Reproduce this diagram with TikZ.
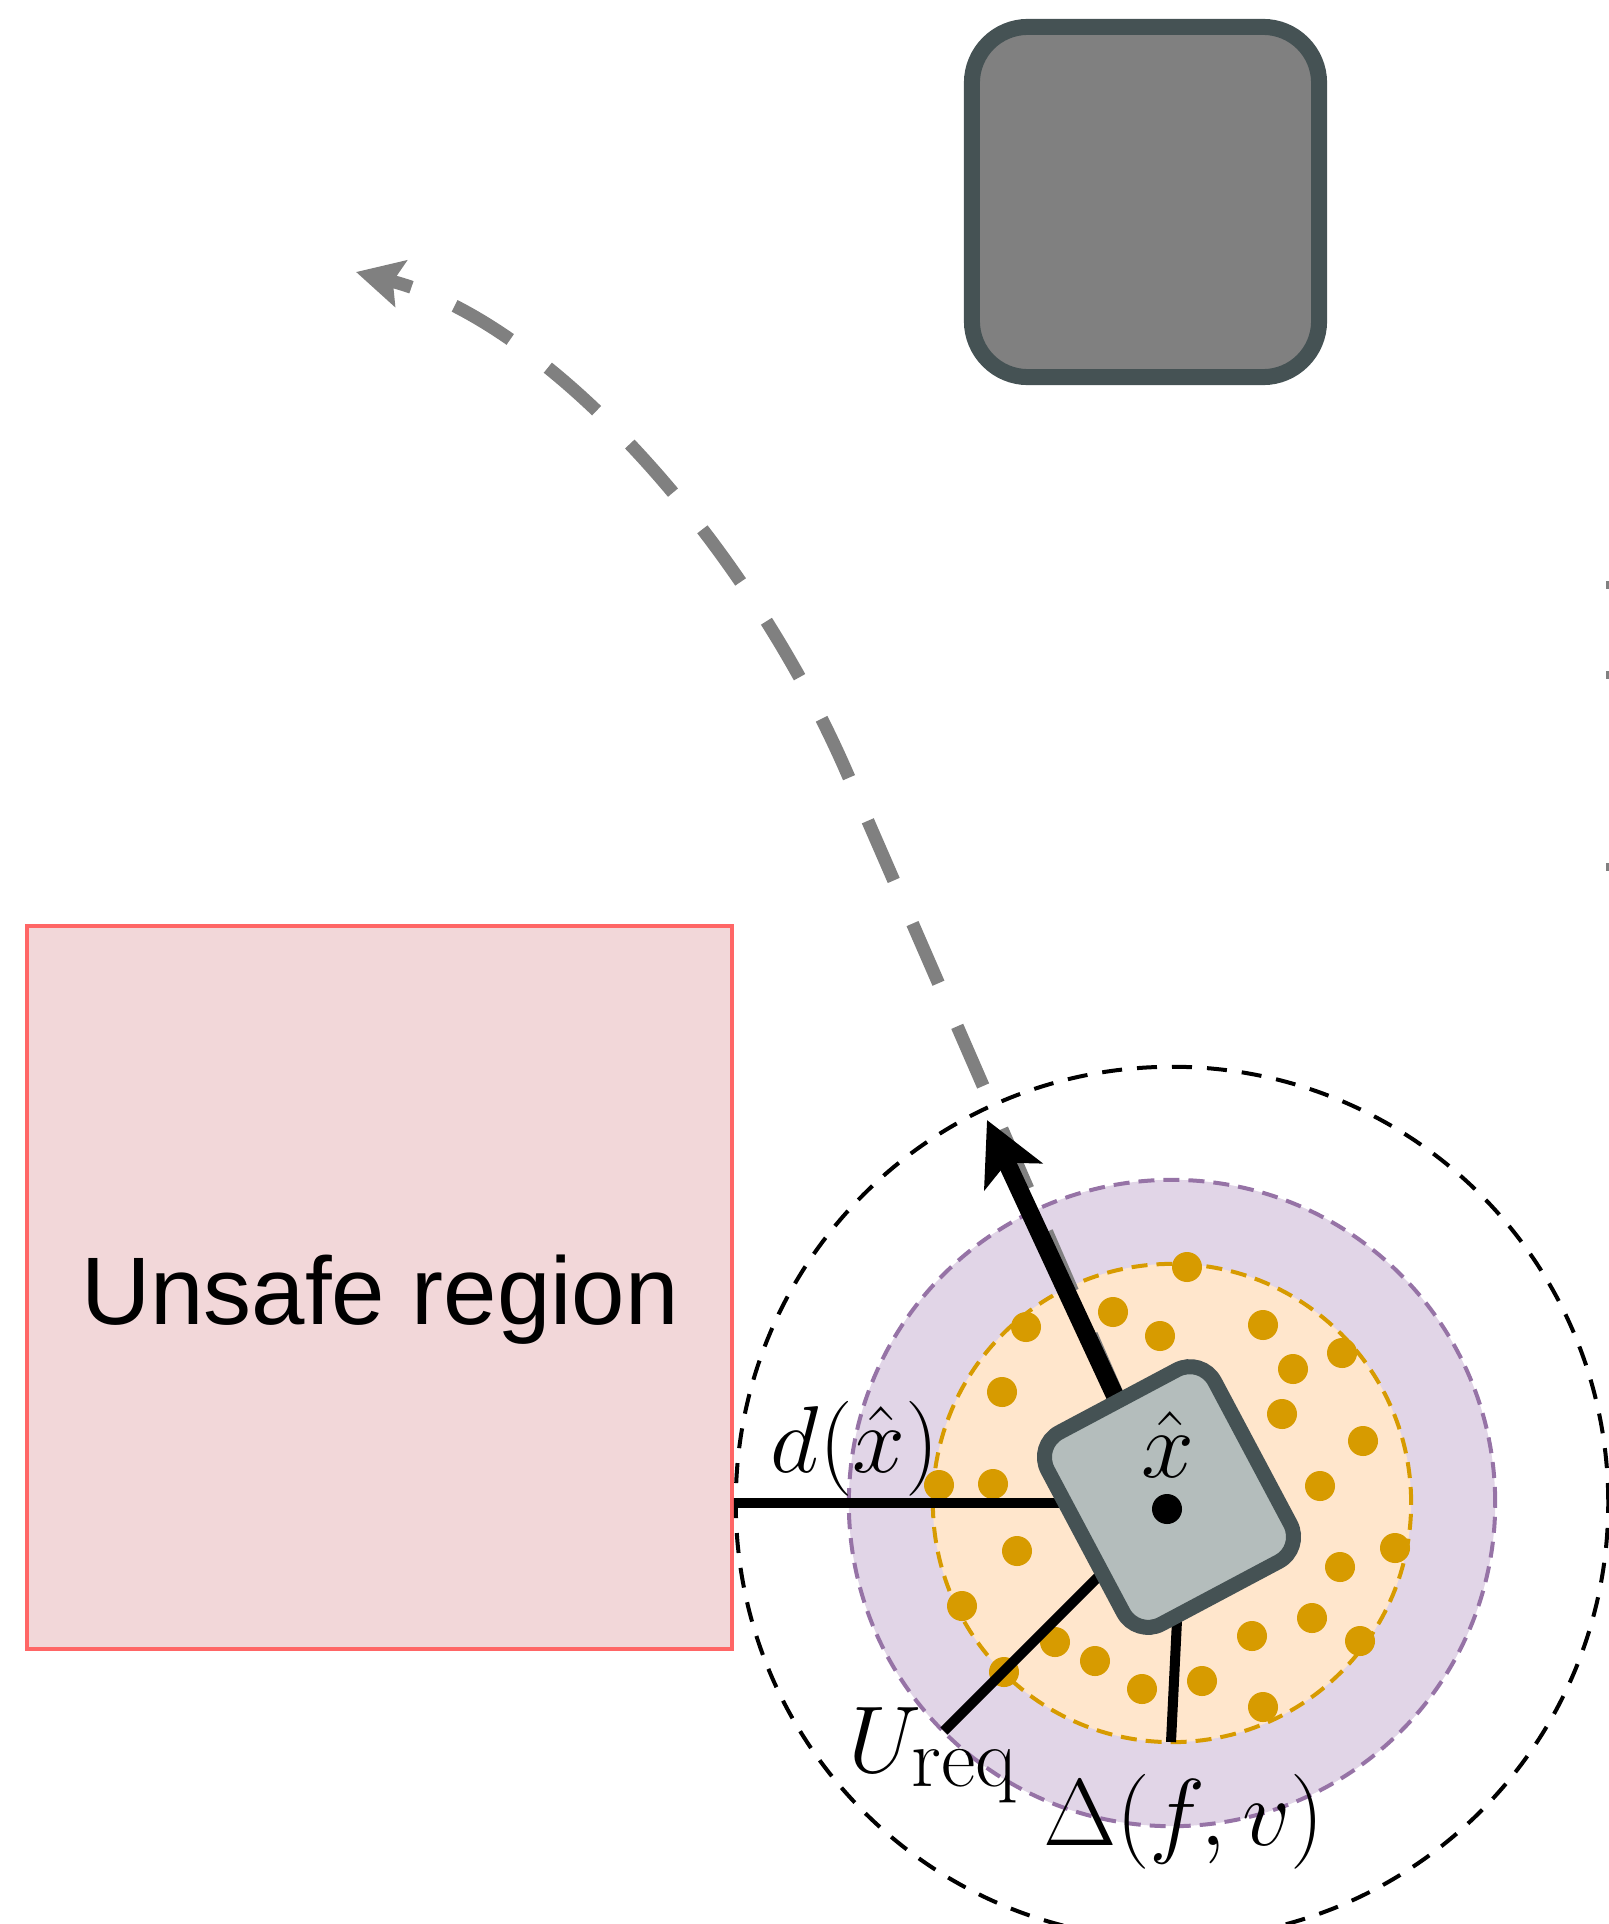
\RequirePackage{fix-cm}
\documentclass[tikz,border=0pt]{standalone}
\usepackage{fontspec}
\newfontfamily\regionfont{Liberation Sans}
\usetikzlibrary{arrows.meta}

\definecolor{unsafefill}{HTML}{F2D7D9}
\definecolor{unsafeedge}{HTML}{FF6666}
\definecolor{purplefill}{HTML}{E1D5E7}
\definecolor{purpleedge}{HTML}{9673A6}
\definecolor{orangefill}{HTML}{FFE6CC}
\definecolor{orangeedge}{HTML}{D79B00}
\definecolor{robotfill}{HTML}{B4BDBC}
\definecolor{robotedge}{HTML}{455254}
\definecolor{obstfill}{HTML}{808080}
\definecolor{pathgray}{HTML}{808080}

\tikzset{
  unsafebox/.style={draw=unsafeedge, fill=unsafefill, line width=0.045cm, inner sep=0pt, outer sep=0pt},
  robotbox/.style={draw=robotedge, fill=robotfill, line width=0.15cm, rounded corners=0.28cm, inner sep=0pt, outer sep=0pt},
  obstaclebox/.style={draw=robotedge, fill=obstfill, line width=0.16cm, rounded corners=0.56cm, inner sep=0pt, outer sep=0pt},
  ringline/.style={line width=0.04cm, dash pattern=on 0.16cm off 0.09cm},
  outerring/.style={draw=black, line width=0.04cm, dash pattern=on 0.2cm off 0.15cm},
  measure/.style={draw=black, line width=0.1cm},
  trajectory/.style={draw=pathgray, line width=0.13cm, dash pattern=on 0.65cm off 0.47cm,
    -{Stealth[length=0.46cm, width=0.47cm, inset=0.08cm]}},
  heading/.style={draw=black, line width=0.18cm,
    -{Stealth[length=0.62cm, width=0.63cm, inset=0.15cm]}},
  mathlabel/.style={inner sep=0pt, outer sep=0pt, font=\fontsize{27}{32}\selectfont},
  sample/.style={fill=orangeedge},
}

\begin{document}
\begin{tikzpicture}[x=0.01cm, y=-0.01cm]
\useasboundingbox (0,0) rectangle (1609,1924);
\clip (0,0) rectangle (1609,1924);

\coordinate (c) at (1172,1503);
\coordinate (start) at (1162,1497);

% unsafe region
\node[unsafebox, minimum width=7.05cm, minimum height=7.23cm] (unsafe) at (379.5,1287.5) {};
\node[anchor=base, inner sep=0pt, font=\regionfont\fontsize{27.3}{33}\selectfont] (unsafelabel) at (380,1324) {Unsafe region};

% nested uncertainty rings
\draw[outerring] (c) circle[radius=4.36cm];
\fill[purplefill] (c) circle[radius=3.23cm];
\draw[ringline, draw=purpleedge] (c) circle[radius=3.23cm];
\fill[orangefill] (c) circle[radius=2.39cm];
\draw[ringline, draw=orangeedge] (c) circle[radius=2.39cm];

% sampled states
\foreach \px/\py in {1187/1267, 1113/1312, 1160/1336, 1026/1327, 1263/1325, 1293/1369,
  1342/1353, 1002/1392, 1282/1414, 1363/1441, 939/1485, 993/1484, 1320/1486,
  1017/1551, 1395/1548, 1340/1567, 962/1606, 1312/1618, 1252/1636, 1360/1641,
  1055/1642, 1095/1661, 1004/1672, 1142/1689, 1202/1681, 1263/1707}
  \fill[sample] (\px,\py) circle[radius=0.15cm];

% distance and bound markers
\coordinate (dend) at (734,1503);
\coordinate (uend) at (944,1731);
\coordinate (dtop) at (1178,1600);
\coordinate (dbot) at (1171,1742);
\draw[measure] (c) -- (dend);
\draw[measure] (c) -- (uend);
\draw[measure] (dtop) -- (dbot);

% planned trajectory
\coordinate (bend) at (847,773);
\coordinate (goal) at (356,272);
\draw[trajectory] (start) -- (bend) .. controls (747,543) and (550,322) .. (goal);

% heading
\coordinate (head) at (987,1120);
\draw[heading] (start) -- (head);

% robot
\node[robotbox, rotate=28, minimum width=1.89cm, minimum height=2.17cm] (robot) at (1169,1497) {};
\node[circle, fill=black, minimum size=0.3cm, inner sep=0pt] (xdot) at (1167,1509) {};
\node[mathlabel, anchor=base] (xhat) at (1168,1477) {$\hat{x}$};

% labels
\node[mathlabel, anchor=base] (dlabel) at (855,1472) {$d(\hat{x})$};
\node[mathlabel, anchor=base west] (ulabel) at (848,1772) {$U_{\mbox{\fontsize{24}{28}\selectfont req}}$};
\node[mathlabel, anchor=base west] (deltalabel) at (1043,1845) {$\Delta(f,v)$};

% static obstacle
\node[obstaclebox, minimum width=3.47cm, minimum height=3.50cm] (obstacle) at (1145.5,202) {};

% dashes entering from the right border
\fill[pathgray] (1606,581) rectangle (1609,589);
\fill[pathgray] (1606,671) rectangle (1609,679);
\fill[pathgray] (1606,863) rectangle (1609,871);
\end{tikzpicture}
\end{document}
